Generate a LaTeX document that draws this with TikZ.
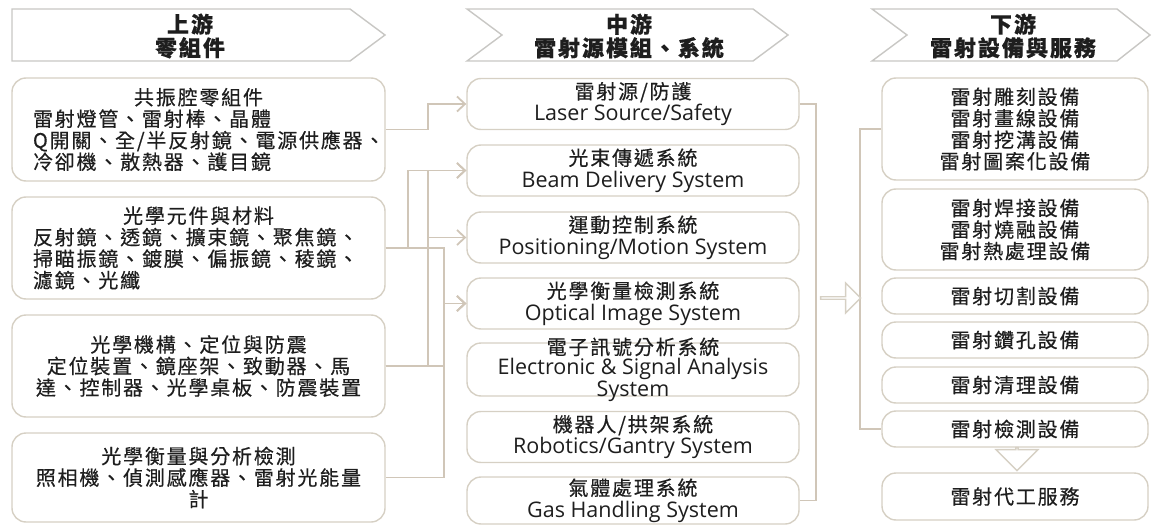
\documentclass[tikz,border=0pt]{standalone}
\usepackage{fontspec}
\setmainfont[LetterSpace=9,FakeBold=0.4]{Noto Sans CJK TC}
\newfontfamily\latinfont{Open Sans}
\newcommand\en[1]{{\latinfont\fontsize{21.5}{22}\selectfont #1}}
\usepackage{tikz}
\usetikzlibrary{arrows.meta,shapes.arrows}
\definecolor{boxline}{RGB}{214,208,196}
\definecolor{linkline}{RGB}{208,198,184}
\definecolor{hdrline}{RGB}{200,199,196}
\definecolor{txt}{RGB}{30,30,30}

\begin{document}
\begin{tikzpicture}[x=1pt,y=-1pt,
  box/.style={draw=boxline, line width=1.4pt, rounded corners=14pt, fill=white,
    inner sep=0pt, text=txt, font=\fontsize{20}{21.5}\selectfont},
  upbox/.style={box, minimum width=373pt},
  upleft/.style={upbox, text width=331pt, align=left},
  upmid/.style={upbox, align=center},
  midbox/.style={box, minimum width=332pt, minimum height=51pt, align=center,
    font=\fontsize{20}{22}\selectfont},
  downbox/.style={box, minimum width=266pt, minimum height=36pt, align=center},
  hdr/.style={draw=hdrline, line width=1.4pt, fill=white},
  hdrtext/.style={text=txt, align=center, font=\fontsize{22}{23.5}\selectfont\bfseries},
  link/.style={draw=linkline, line width=1.8pt},
  tip/.style={-{Straight Barb[length=8pt,width=15pt]}},
  fatarrow/.style={single arrow, draw=boxline, line width=1.4pt, fill=white,
    inner sep=0pt, single arrow head indent=0pt}]
\useasboundingbox (0,0) rectangle (1152,527);
%
% headers
\draw[hdr] (12,9) -- (350,9) -- (385,35) -- (350,61) -- (12,61) -- cycle;
\draw[hdr] (467,9) -- (753,9) -- (788,35) -- (753,61) -- (467,61) -- (502,35) -- cycle;
\draw[hdr] (872,9) -- (1117,9) -- (1150,35) -- (1117,61) -- (872,61) -- (907,35) -- cycle;
\node[hdrtext] (up) at (190,36) {上游\\零組件};
\node[hdrtext] (mid) at (629,36) {中游\\雷射源模組、系統};
\node[hdrtext] (down) at (1013,36) {下游\\雷射設備與服務};
%
% upstream
\node[upleft, minimum height=103pt] (L1) at (198.5,129.5)
  {\makebox[\linewidth]{共振腔零組件}\\雷射燈管、雷射棒、晶體\\Q開關、全/半反射鏡、電源供應器、\\冷卻機、散熱器、護目鏡};
\node[upleft, minimum height=102pt] (L2) at (198.5,248)
  {\makebox[\linewidth]{光學元件與材料}\\反射鏡、透鏡、擴束鏡、聚焦鏡、\\掃瞄振鏡、鍍膜、偏振鏡、稜鏡、\\濾鏡、光纖};
\node[upmid, minimum height=102pt] (L3) at (198.5,366)
  {光學機構、定位與防震\\定位裝置、鏡座架、致動器、馬\\達、控制器、光學桌板、防震裝置};
\node[upmid, minimum height=89pt] (L4) at (198.5,477.5)
  {光學衡量與分析檢測\\照相機、偵測感應器、雷射光能量\\計};
%
% midstream
\node[midbox] (M1) at (633,104) {雷射源/防護\\\en{Laser Source/Safety}};
\node[midbox] (M2) at (633,170.5) {光束傳遞系統\\\en{Beam Delivery System}};
\node[midbox] (M3) at (633,237.5) {運動控制系統\\\en{Positioning/Motion System}};
\node[midbox] (M4) at (633,303.5) {光學衡量檢測系統\\\en{Optical Image System}};
\node[midbox, minimum height=53pt] (M5) at (633,369.5) {};
\node[text=txt, align=center, font=\fontsize{20}{20}\selectfont] (M5t) at (M5)
  {電子訊號分析系統\\\en{Electronic \& Signal Analysis}\\\en{System}};
\node[midbox] (M6) at (633,437) {機器人/拱架系統\\\en{Robotics/Gantry System}};
\node[midbox, minimum height=47pt] (M7) at (633,500.5) {氣體處理系統\\\en{Gas Handling System}};
%
% downstream
\node[downbox, minimum height=102pt] (R1) at (1015,129) {雷射雕刻設備\\雷射畫線設備\\雷射挖溝設備\\雷射圖案化設備};
\node[downbox, minimum height=81pt] (R2) at (1015,229.5) {雷射焊接設備\\雷射燒融設備\\雷射熱處理設備};
\node[downbox] (R3) at (1015,296) {雷射切割設備};
\node[downbox] (R4) at (1015,340) {雷射鑽孔設備};
\node[downbox] (R5) at (1015,385) {雷射清理設備};
\node[downbox] (R6) at (1015,429) {雷射檢測設備};
\node[downbox, minimum height=47pt] (R7) at (1015,496.5) {雷射代工服務};
%
% links up -> mid
\draw[link, tip] (L1.east) -- ++(42,0) |- (M1.west);
\draw[link, tip] (L2.east) -- ++(22,0) |- (M2.west);
\draw[link, tip] (L2.east) -- ++(58,0) |- (M4.west);
\draw[link, tip] (L3.east) -- ++(42,0) |- (M2.west);
\draw[link, tip] (L3.east) -- ++(42,0) |- (M3.west);
\draw[link, tip] (L3.east) -- ++(58,0) |- (M4.west);
\draw[link, tip] (L4.east) -- ++(58,0) |- (M4.west);
%
% mid -> down
\draw[link] (M1.east) -- ++(16,0) |- (M7.east);
\draw[link] (R1.west) -- ++(-21,0) |- (R6.west);
\node[fatarrow, minimum height=40pt, minimum width=30pt, single arrow head extend=8pt] (go) at (840,298) {};
\node[fatarrow, minimum height=23pt, minimum width=42pt, single arrow head extend=12pt,
  shape border rotate=270] (more) at (1017,458.5) {};
\end{tikzpicture}
\end{document}
